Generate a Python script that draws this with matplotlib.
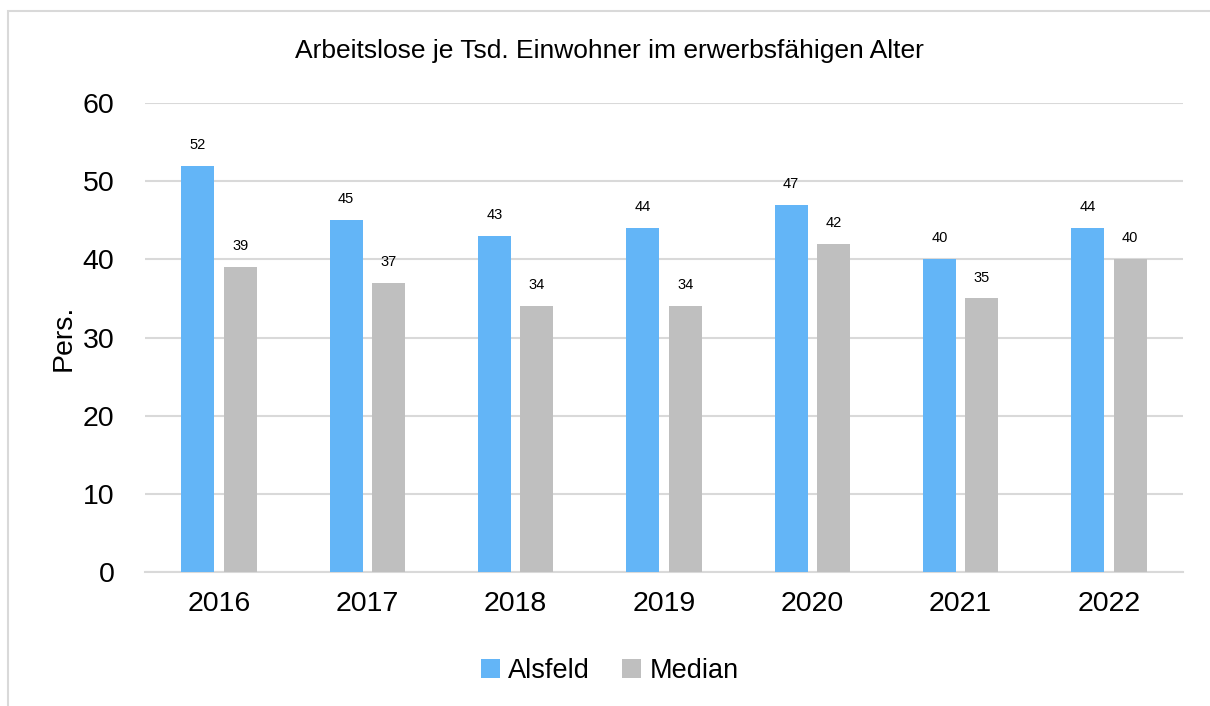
import numpy as np
import matplotlib.pyplot as plt
from matplotlib.patches import Rectangle

# Daten
jahre = ['2016', '2017', '2018', '2019', '2020', '2021', '2022']
alsfeld = [52, 45, 43, 44, 47, 40, 44]
median = [39, 37, 34, 34, 42, 35, 40]

plt.rcParams['font.family'] = ['Liberation Sans', 'DejaVu Sans']

fig = plt.figure(figsize=(12.1, 7.06), dpi=100)
ax = fig.add_axes([0.1198, 0.1898, 0.858, 0.6642])

# Rahmen um das Diagramm
fig.patches.append(Rectangle((8 / 1210, -0.1), 1.2, 1 - 11 / 706 + 0.1,
                             transform=fig.transFigure, fill=False,
                             edgecolor='#D9D9D9', linewidth=1.5))

x = np.arange(len(jahre))
w = 0.223
b1 = ax.bar(x - 0.143, alsfeld, w, color='#63B5F7', label='Alsfeld', zorder=3)
b2 = ax.bar(x + 0.143, median, w, color='#BFBFBF', label='Median', zorder=3)

for bars in (b1, b2):
    for rect in bars:
        ax.annotate(f'{rect.get_height():.0f}',
                    (rect.get_x() + rect.get_width() / 2, rect.get_height()),
                    xytext=(0, 10), textcoords='offset points',
                    ha='center', va='bottom', fontsize=10.5)

ax.set_xlim(-0.5, len(jahre) - 0.5)
ax.set_ylim(0, 60)
ax.set_yticks(range(0, 61, 10))
ax.set_xticks(x)
ax.set_xticklabels(jahre)
ax.tick_params(axis='both', length=0, labelsize=20.5)
ax.tick_params(axis='y', pad=22)
ax.tick_params(axis='x', pad=14)

ax.grid(axis='y', color='#D9D9D9', linewidth=1.5, zorder=0)
for s in ['top', 'right', 'left']:
    ax.spines[s].set_visible(False)
ax.spines['bottom'].set_color('#D9D9D9')
ax.spines['bottom'].set_linewidth(1.5)

ax.set_ylabel('Pers.', fontsize=20.5, labelpad=4)
fig.text(0.504, 0.928, 'Arbeitslose je Tsd. Einwohner im erwerbsfähigen Alter',
         ha='center', va='center', fontsize=19)

fig.legend(handles=[b1, b2], loc='center', bbox_to_anchor=(0.504, 0.05),
           ncol=2, frameon=False, fontsize=19.5, handlelength=0.7,
           handleheight=0.7, handletextpad=0.3, columnspacing=1.2)

fig.savefig('out.png', dpi=100)
